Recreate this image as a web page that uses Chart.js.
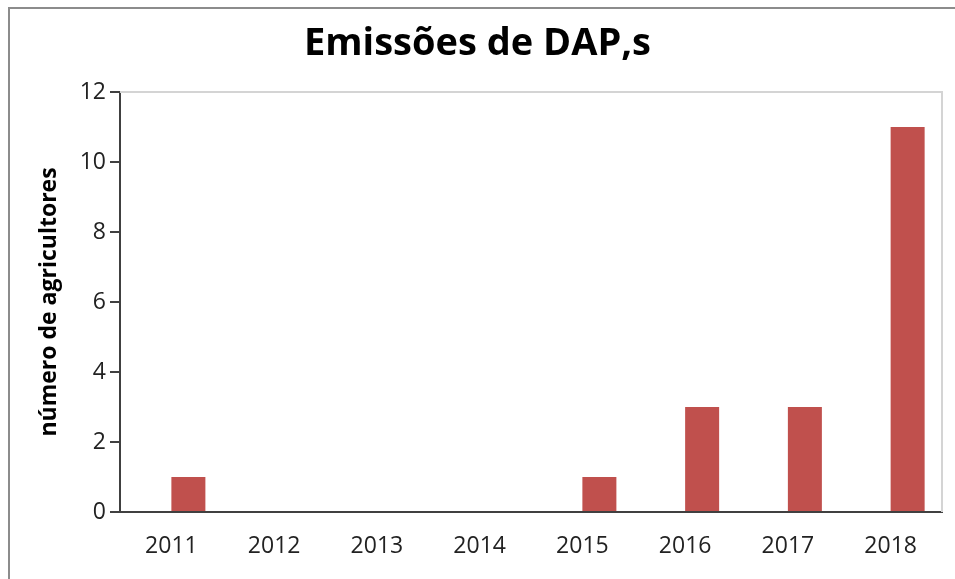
<!DOCTYPE html>
<html>
<head>
<meta charset="utf-8">
<script src="https://cdn.jsdelivr.net/npm/chart.js"></script>
<style>
  html, body { margin: 0; padding: 0; background: #fff; }
  #wrap { position: relative; width: 955px; height: 579px; overflow: hidden; }
  #frame { position: absolute; left: 8px; top: 7px; width: 1000px; height: 700px;
           border-top: 2px solid #8c8c8c; border-left: 2px solid #8c8c8c; }
  canvas { position: absolute; left: 0; top: 0; }
</style>
</head>
<body>
<div id="wrap">
  <div id="frame"></div>
  <canvas id="dapChart" width="955" height="579"></canvas>
</div>
<script>
(function() {
  var years = ['2011', '2012', '2013', '2014', '2015', '2016', '2017', '2018'];
  var farmers = [1, 0, 0, 0, 1, 3, 3, 11];
  // the original has an empty first series, so the bars sit right of the label
  var emptySeries = [null, null, null, null, null, null, null, null];
  var yTicks = [0, 2, 4, 6, 8, 10, 12];

  var chartTitle = 'Emissões de DAP,s';
  var yTitle = 'número de agricultores';
  var fontFamily = '"Open Sans", sans-serif';

  // light grey border on top and right of the plot area
  var plotFrame = {
    id: 'plotFrame',
    beforeDatasetsDraw: function(chart) {
      var a = chart.chartArea, ctx = chart.ctx;
      ctx.save();
      ctx.strokeStyle = '#d4d4d4';
      ctx.lineWidth = 2;
      ctx.beginPath();
      ctx.moveTo(a.left, a.top);
      ctx.lineTo(a.right, a.top);
      ctx.lineTo(a.right, a.bottom);
      ctx.stroke();
      ctx.restore();
    }
  };

  new Chart(document.getElementById('dapChart').getContext('2d'), {
    type: 'bar',
    data: {
      labels: years,
      datasets: [
        { label: '', data: emptySeries, backgroundColor: 'rgba(0,0,0,0)' },
        { label: yTitle, data: farmers, backgroundColor: '#c0504d' }
      ]
    },
    options: {
      responsive: false,
      animation: false,
      devicePixelRatio: 1,
      layout: { padding: { left: 13, right: 13, top: 0, bottom: 0 } },
      datasets: { bar: { categoryPercentage: 0.662, barPercentage: 1 } },
      plugins: {
        legend: { display: false },
        tooltip: { enabled: false },
        title: {
          display: true,
          text: chartTitle,
          color: '#000',
          font: { family: fontFamily, size: 38, weight: 'bold' },
          padding: { top: 21, bottom: 25.4 }
        }
      },
      scales: {
        x: {
          grid: { display: false },
          border: { display: true, color: '#404040', width: 2 },
          ticks: { color: '#222', padding: 13, font: { family: fontFamily, size: 23 } },
          afterFit: function(scale) { scale.height = 67; }
        },
        y: {
          min: 0,
          max: 12,
          afterBuildTicks: function(scale) {
            scale.ticks = yTicks.map(function(v) { return { value: v }; });
          },
          grid: { drawOnChartArea: false, drawTicks: true, tickLength: 10, color: '#404040', lineWidth: 2 },
          border: { display: true, color: '#404040', width: 2 },
          ticks: { color: '#222', padding: 4, font: { family: fontFamily, size: 23 } },
          title: {
            display: true,
            text: yTitle,
            color: '#000',
            padding: { top: 23, bottom: 0 },
            font: { family: fontFamily, size: 23, weight: 'bold' }
          },
          afterFit: function(scale) { scale.width = 107; }
        }
      }
    },
    plugins: [plotFrame]
  });
})();
</script>
</body>
</html>
